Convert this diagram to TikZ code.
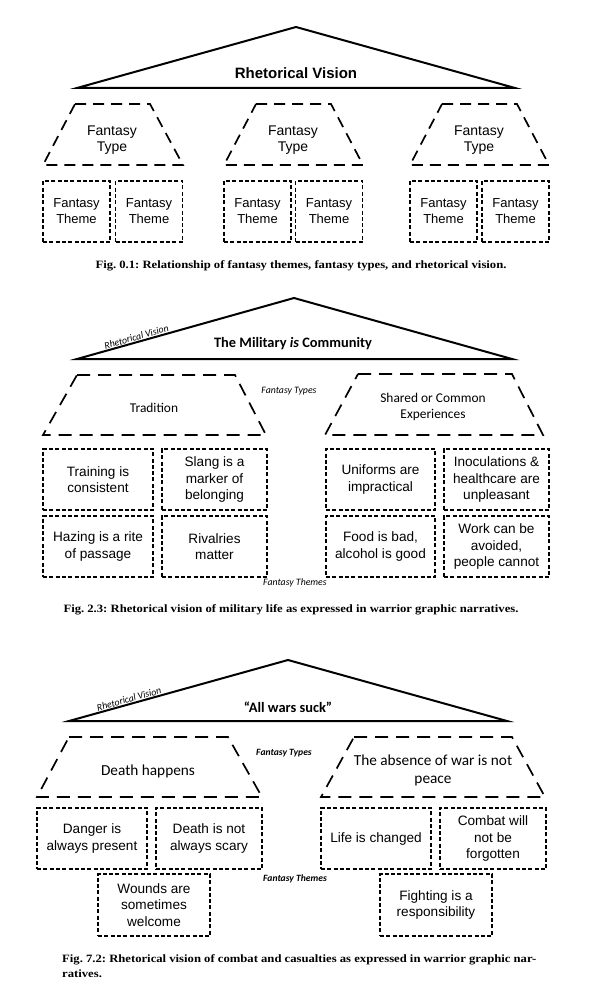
\documentclass[tikz,border=0pt]{standalone}
\usepackage{fontspec}
\setmainfont{Liberation Serif}
\newfontfamily\arialf{Liberation Sans}
\newfontfamily\calf{Carlito}
\newfontfamily\capf[FakeStretch=1.13]{Liberation Serif}
\newcommand{\fsz}[2]{\fontsize{#1}{#2}\selectfont}
\frenchspacing
\tikzset{
  roof/.style={line width=2pt, line join=miter, miter limit=20},
  typeedge/.style={line width=1.7pt, dash pattern=on 11pt off 7pt},
  typeedgeb/.style={line width=1.7pt, dash pattern=on 13pt off 8pt},
  themebox/.style={draw, line width=1.3pt, dash pattern=on 4pt off 2.3pt, inner sep=0pt, align=center},
  onebox/.style={themebox, minimum width=67pt, minimum height=61pt, font=\arialf\fsz{13}{16}},
  twobox/.style={themebox, minimum height=61pt, font=\arialf\fsz{13.6}{16.2}},
  typelabA/.style={align=center, inner sep=0pt, font=\arialf\fsz{14}{15.5}},
  typelabB/.style={align=center, inner sep=0pt, font=\calf\fsz{13.4}{16}},
  typelabC/.style={align=center, inner sep=0pt, font=\calf\fsz{15.3}{18}},
  visiontitle/.style={inner sep=0pt, font=\calf\bfseries\fsz{14.4}{16}},
  smalllab/.style={inner sep=0pt, font=\calf\itshape\fsz{9.8}{11}},
  smalllabb/.style={inner sep=0pt, font=\calf\bfseries\itshape\fsz{9.6}{11}},
  caption/.style={inner sep=0pt, font=\capf\bfseries\fsz{11.2}{14.5}}
}
\begin{document}
\begin{tikzpicture}[x=1pt, y=-1pt]
\useasboundingbox[fill=white] (0,0) rectangle (600,1006);

% ===================== Figure 0.1 =====================
\coordinate (A1) at (296,27);
\coordinate (L1) at (77,88);
\coordinate (R1) at (515,88);
\draw[roof] (L1) -- (A1) -- (R1) -- cycle;
\node[inner sep=0pt, font=\arialf\bfseries\fsz{15}{17}] (rv1) at (296,73) {Rhetorical Vision};

\draw[typeedge] (75,104) -- (150,104) -- (183,165) -- (43,165) -- cycle;
\draw[typeedge] (256,104) -- (331,104) -- (363,165) -- (224,165) -- cycle;
\draw[typeedge] (442,104) -- (517,104) -- (549,165) -- (410,165) -- cycle;
\node[typelabA] (ft1) at (112,140) {Fantasy\\Type};
\node[typelabA] (ft2) at (293,140) {Fantasy\\Type};
\node[typelabA] (ft3) at (479,140) {Fantasy\\Type};

\node[onebox] (th1) at (76.5,211.5) {Fantasy\\Theme};
\node[onebox] (th2) at (149,211.5) {Fantasy\\Theme};
\node[onebox] (th3) at (257.5,211.5) {Fantasy\\Theme};
\node[onebox] (th4) at (329,211.5) {Fantasy\\Theme};
\node[onebox] (th5) at (443.5,211.5) {Fantasy\\Theme};
\node[onebox] (th6) at (515.5,211.5) {Fantasy\\Theme};

\node[caption] (cap1) at (301,266) {Fig. 0.1: Relationship of fantasy themes, fantasy types, and rhetorical vision.};

% ===================== Figure 2.3 =====================
\coordinate (A2) at (294,298);
\coordinate (L2) at (77,359);
\coordinate (R2) at (512,359);
\draw[roof] (L2) -- (A2) -- (R2) -- cycle;
\path (L2) -- (A2) node[pos=0.28, sloped, above, smalllab, inner sep=1.5pt] (rvl2) {Rhetorical Vision};
\node[visiontitle] (rv2) at (293,344) {The Military \textit{is} Community};

\draw[typeedgeb] (77,375) -- (235,375) -- (266,435) -- (43,435) -- cycle;
\draw[typeedgeb] (358,374) -- (512,374) -- (543,435) -- (325,435) -- cycle;
\node[typelabB] (tr2) at (154,408) {Tradition};
\node[typelabB] (sh2) at (433,407) {Shared or Common\\Experiences};
\node[smalllab] (fty2) at (289,391) {Fantasy Types};

\node[twobox, minimum width=110pt] (b21) at (98,479.5) {Training is\\consistent};
\node[twobox, minimum width=105pt] (b22) at (214.5,479.5) {Slang is a\\marker of\\belonging};
\node[twobox, minimum width=109pt] (b23) at (380.5,479.5) {Uniforms are\\impractical};
\node[twobox, minimum width=105pt] (b24) at (496.5,479.5) {Inoculations \&\\healthcare are\\unpleasant};
\node[twobox, minimum width=110pt] (b25) at (98,546.5) {Hazing is a rite\\of passage};
\node[twobox, minimum width=105pt] (b26) at (214.5,546.5) {Rivalries\\matter};
\node[twobox, minimum width=109pt] (b27) at (380.5,546.5) {Food is bad,\\alcohol is good};
\node[twobox, minimum width=105pt] (b28) at (496.5,546.5) {Work can be\\avoided,\\people cannot};
\node[smalllab] (fth2) at (295,583) {Fantasy Themes};

\node[caption] (cap2) at (291,610) {Fig. 2.3: Rhetorical vision of military life as expressed in warrior graphic narratives.};

% ===================== Figure 7.2 =====================
\coordinate (A3) at (288,660);
\coordinate (L3) at (69,721);
\coordinate (R3) at (507,721);
\draw[roof] (L3) -- (A3) -- (R3) -- cycle;
\path (L3) -- (A3) node[pos=0.28, sloped, above, smalllab, inner sep=1.5pt] (rvl3) {Rhetorical Vision};
\node[visiontitle] (rv3) at (288,707) {“All wars suck”};

\draw[typeedgeb] (69,737) -- (228,737) -- (262,797) -- (37,797) -- cycle;
\draw[typeedgeb] (354,737) -- (512,737) -- (545,797) -- (321,797) -- cycle;
\node[typelabC] (dh3) at (148,771) {Death happens};
\node[typelabC] (ab3) at (433,770) {The absence of war is not\\peace};
\node[smalllabb] (fty3) at (284,753) {Fantasy Types};

\node[twobox, minimum width=110pt] (b31) at (92,838.5) {Danger is\\always present};
\node[twobox, minimum width=106pt] (b32) at (209,838.5) {Death is not\\always scary};
\node[twobox, minimum width=110pt] (b33) at (376,838.5) {Life is changed};
\node[twobox, minimum width=106pt] (b34) at (493,838.5) {Combat will\\not be\\forgotten};
\node[twobox, minimum width=112pt, minimum height=62pt] (b35) at (154,905) {Wounds are\\sometimes\\welcome};
\node[twobox, minimum width=112pt, minimum height=62pt] (b36) at (436,905) {Fighting is a\\responsibility};
\node[smalllabb] (fth3) at (295,879) {Fantasy Themes};

\node[caption, anchor=west, align=left] (cap3) at (62,966) {Fig. 7.2: Rhetorical vision of combat and casualties as expressed in warrior graphic nar-\\ratives.};
\end{tikzpicture}
\end{document}
